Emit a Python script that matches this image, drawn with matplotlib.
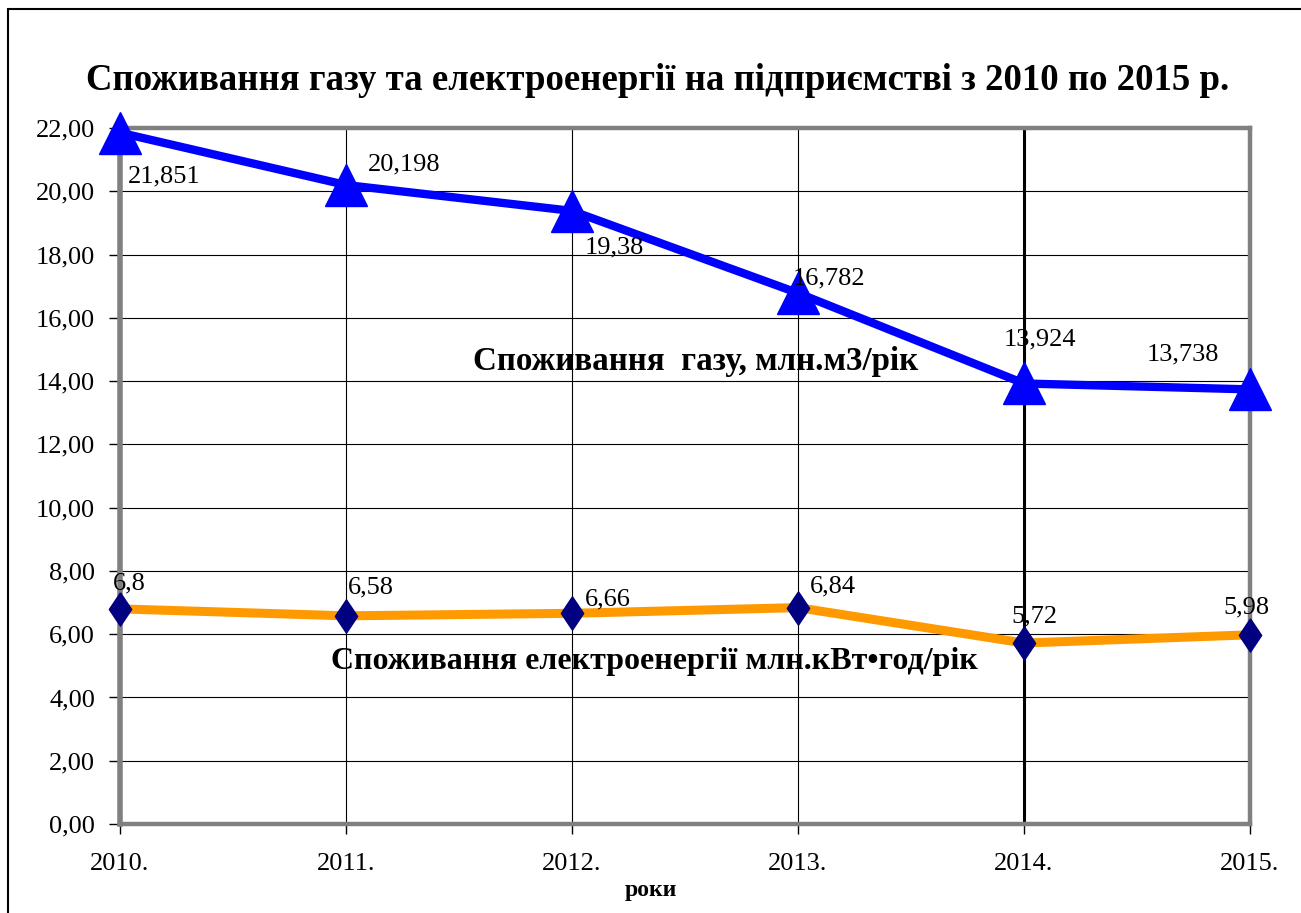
import matplotlib.pyplot as plt
import matplotlib.patches as patches
from matplotlib.ticker import FuncFormatter

plt.rcParams['font.family'] = ['Liberation Serif', 'DejaVu Serif']

years = [2010, 2011, 2012, 2013, 2014, 2015]
year_labels = ['2010.', '2011.', '2012.', '2013.', '2014.', '2015.']
gas = [21.851, 20.198, 19.38, 16.782, 13.924, 13.738]
gas_labels = ['21,851', '20,198', '19,38', '16,782', '13,924', '13,738']
elec = [6.8, 6.58, 6.66, 6.84, 5.72, 5.98]
elec_labels = ['6,8', '6,58', '6,66', '6,84', '5,72', '5,98']

# зсув підписів (пікселі) відносно точок
gas_off = [(8, -44), (22, 21), (13, -37), (-5, 15), (-20, 44), (-103, 35)]
elec_off = [(-7, 25), (2, 28), (13, 14), (12, 21), (-13, 27), (-27, 27)]

fig = plt.figure(figsize=(13.01, 9.13), dpi=100)
ax = fig.add_axes([120 / 1301, 1 - 824 / 913, 1130 / 1301, 696 / 913])

ax.set_xlim(2010, 2015)
ax.set_ylim(0, 22)
ax.set_yticks(range(0, 23, 2))
ax.set_xticks(years)
ax.set_xticklabels(year_labels)
ax.yaxis.set_major_formatter(FuncFormatter(lambda v, p: f"{v:.2f}".replace('.', ',')))
ax.tick_params(axis='y', length=8, width=1, pad=10, labelsize=19, direction='out')
ax.tick_params(axis='x', length=7, width=1, pad=14, labelsize=19, direction='out')

ax.grid(True, color='black', lw=0.8)
ax.axvline(2014, color='black', lw=2.2, zorder=2)
for s in ax.spines.values():
    s.set_color('#808080')
    s.set_linewidth(3.2)
ax.spines['left'].set_linewidth(4)

diamond = [(0, 1), (0.67, 0), (0, -1), (-0.67, 0), (0, 1)]

ax.plot(years, gas, color='#0000FF', lw=6, marker='^', ms=30,
        markerfacecolor='#0000FF', markeredgecolor='#0000FF', clip_on=False, zorder=5)
ax.plot(years, elec, color='#FF9900', lw=6.5, marker=diamond, ms=24,
        markerfacecolor='#000080', markeredgecolor='#000080', clip_on=False, zorder=5)

for x, y, t, o in zip(years, gas, gas_labels, gas_off):
    ax.annotate(t, (x, y), xytext=o, textcoords='offset pixels', fontsize=19,
                ha='left', va='center', zorder=6)
for x, y, t, o in zip(years, elec, elec_labels, elec_off):
    ax.annotate(t, (x, y), xytext=o, textcoords='offset pixels', fontsize=19,
                ha='left', va='center', zorder=6)

ax.text(0.509, 0.664, 'Споживання  газу, млн.м3/рік', transform=ax.transAxes,
        fontsize=23.8, fontweight='bold', ha='center', va='center', zorder=6)
ax.text(0.473, 0.233, 'Споживання електроенергії млн.кВт•год/рік', transform=ax.transAxes,
        fontsize=23, fontweight='bold', ha='center', va='center', zorder=6)
ax.text(0.47, -0.095, 'роки', transform=ax.transAxes,
        fontsize=17, fontweight='bold', ha='center', va='center')

fig.text(658 / 1301, 1 - 81 / 913, 'Споживання газу та електроенергії на підприємстві з 2010 по 2015 р.',
         fontsize=26.5, fontweight='bold', ha='center', va='center')

fig.patches.append(patches.Rectangle((8 / 1301, -0.1), 1.5, 1 - 9 / 913 + 0.1, fill=False,
                                     lw=1.5, edgecolor='black', transform=fig.transFigure))

fig.savefig('out.png', dpi=100)
